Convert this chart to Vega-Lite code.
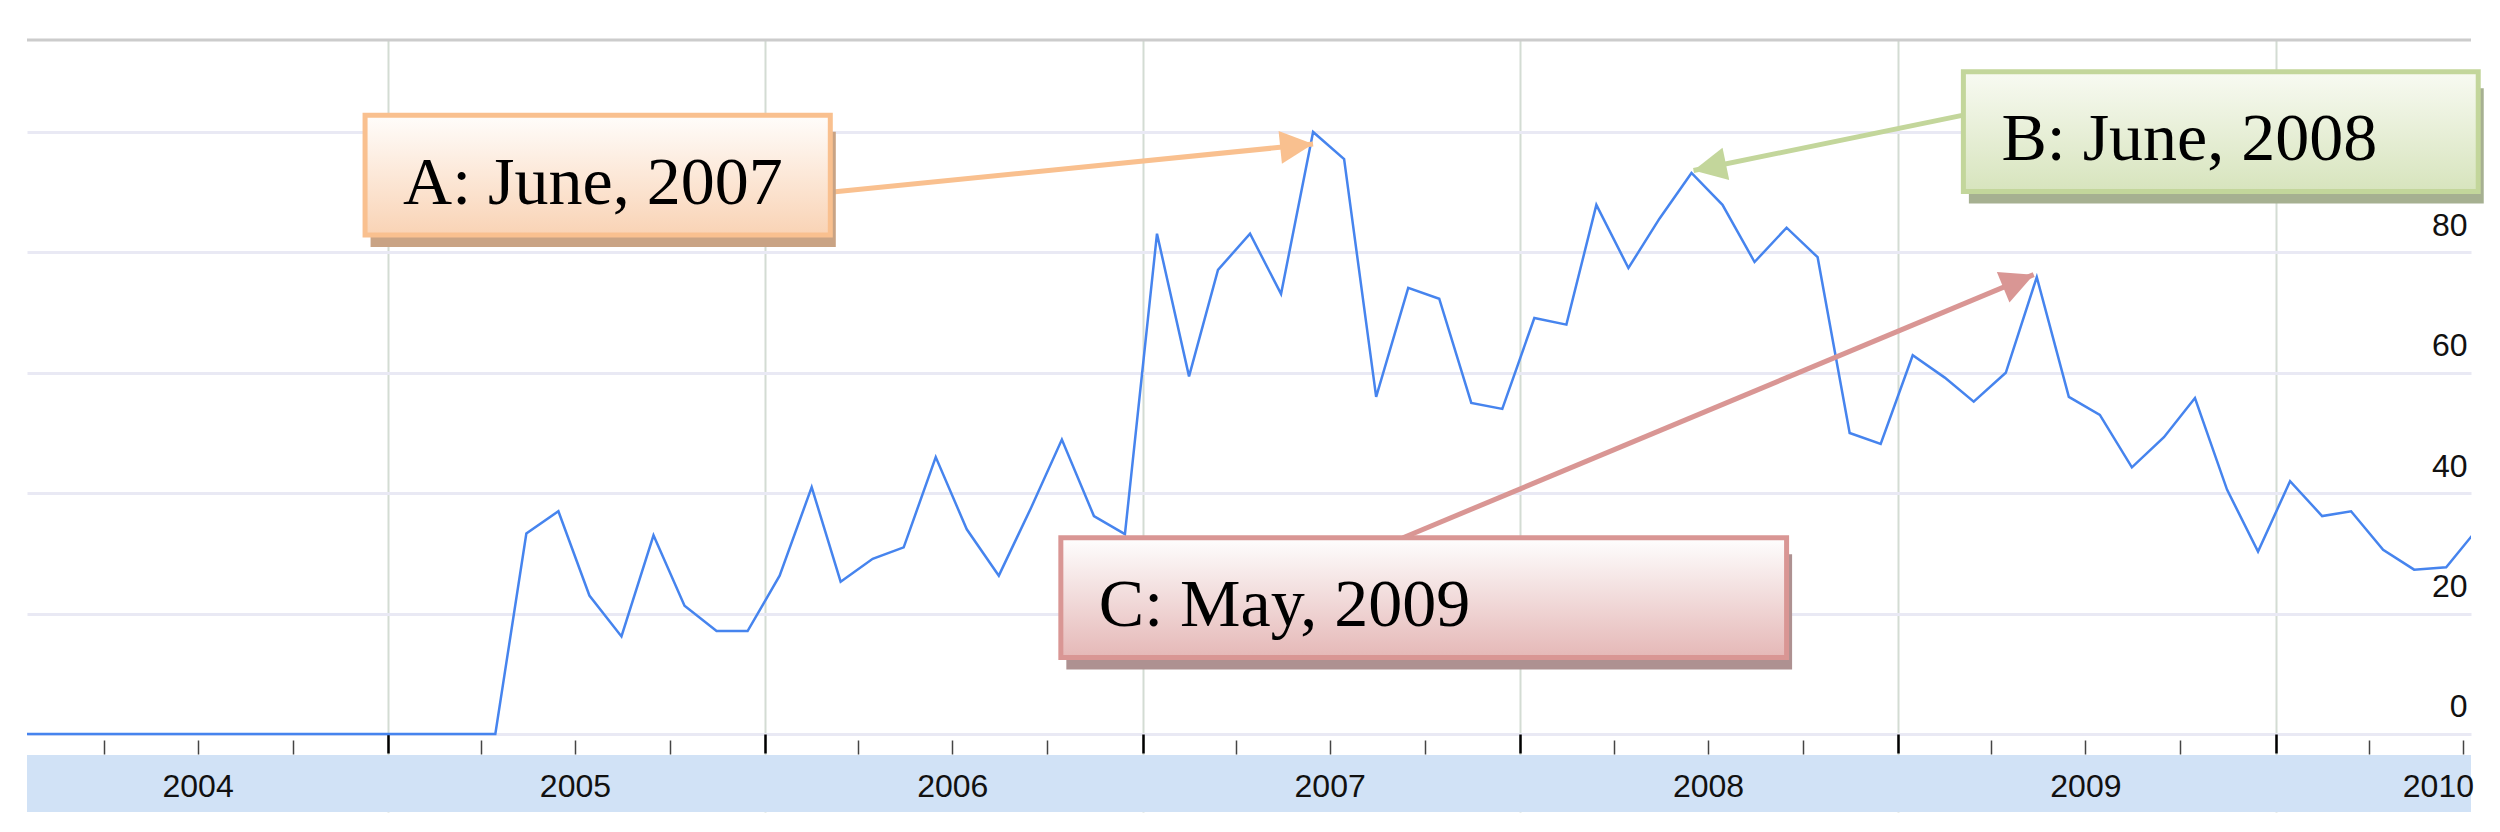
{
  "$schema": "https://vega.github.io/schema/vega-lite/v6.json",
  "autosize": {"type": "none"},
  "padding": {"left": 27, "top": 40, "right": 29, "bottom": 20},
  "width": 2444,
  "height": 772,
  "background": "#ffffff",
  "config": {"view": {"stroke": null}},
  "datasets": {
    "trend": [
      {"date": "2004-01-15", "value": 0}, {"date": "2004-02-15", "value": 0}, {"date": "2004-03-15", "value": 0},
      {"date": "2004-04-15", "value": 0}, {"date": "2004-05-15", "value": 0}, {"date": "2004-06-15", "value": 0},
      {"date": "2004-07-15", "value": 0}, {"date": "2004-08-15", "value": 0}, {"date": "2004-09-15", "value": 0},
      {"date": "2004-10-15", "value": 0}, {"date": "2004-11-15", "value": 0}, {"date": "2004-12-15", "value": 0},
      {"date": "2005-01-15", "value": 0}, {"date": "2005-02-15", "value": 0}, {"date": "2005-03-15", "value": 0},
      {"date": "2005-04-15", "value": 0}, {"date": "2005-05-15", "value": 33.3}, {"date": "2005-06-15", "value": 37},
      {"date": "2005-07-15", "value": 23}, {"date": "2005-08-15", "value": 16.2}, {"date": "2005-09-15", "value": 33},
      {"date": "2005-10-15", "value": 21.3}, {"date": "2005-11-15", "value": 17.1}, {"date": "2005-12-15", "value": 17.1},
      {"date": "2006-01-15", "value": 26.3}, {"date": "2006-02-15", "value": 41}, {"date": "2006-03-15", "value": 25.3},
      {"date": "2006-04-15", "value": 29.1}, {"date": "2006-05-15", "value": 31}, {"date": "2006-06-15", "value": 46},
      {"date": "2006-07-15", "value": 34}, {"date": "2006-08-15", "value": 26.3}, {"date": "2006-09-15", "value": 37.5},
      {"date": "2006-10-15", "value": 48.9}, {"date": "2006-11-15", "value": 36.2}, {"date": "2006-12-15", "value": 33.2},
      {"date": "2007-01-15", "value": 83.1}, {"date": "2007-02-15", "value": 59.4}, {"date": "2007-03-15", "value": 77.1},
      {"date": "2007-04-15", "value": 83.1}, {"date": "2007-05-15", "value": 73.1}, {"date": "2007-06-15", "value": 100},
      {"date": "2007-07-15", "value": 95.5}, {"date": "2007-08-15", "value": 56}, {"date": "2007-09-15", "value": 74.1},
      {"date": "2007-10-15", "value": 72.3}, {"date": "2007-11-15", "value": 55}, {"date": "2007-12-15", "value": 54},
      {"date": "2008-01-15", "value": 69.1}, {"date": "2008-02-15", "value": 68}, {"date": "2008-03-15", "value": 87.9},
      {"date": "2008-04-15", "value": 77.4}, {"date": "2008-05-15", "value": 85.6}, {"date": "2008-06-15", "value": 93.2},
      {"date": "2008-07-15", "value": 87.9}, {"date": "2008-08-15", "value": 78.4}, {"date": "2008-09-15", "value": 84.1},
      {"date": "2008-10-15", "value": 79.2}, {"date": "2008-11-15", "value": 50}, {"date": "2008-12-15", "value": 48.2},
      {"date": "2009-01-15", "value": 62.9}, {"date": "2009-02-15", "value": 59.2}, {"date": "2009-03-15", "value": 55.2},
      {"date": "2009-04-15", "value": 60}, {"date": "2009-05-15", "value": 75.9}, {"date": "2009-06-15", "value": 56},
      {"date": "2009-07-15", "value": 53}, {"date": "2009-08-15", "value": 44.3}, {"date": "2009-09-15", "value": 49.3},
      {"date": "2009-10-15", "value": 55.8}, {"date": "2009-11-15", "value": 40.6}, {"date": "2009-12-15", "value": 30.3},
      {"date": "2010-01-15", "value": 42}, {"date": "2010-02-15", "value": 36.2}, {"date": "2010-03-15", "value": 37},
      {"date": "2010-04-15", "value": 30.6}, {"date": "2010-05-15", "value": 27.3}, {"date": "2010-06-15", "value": 27.7},
      {"date": "2010-07-15", "value": 34}
    ],
    "notes": [
      {"label": "A: June, 2007", "x1": "2004-12-10", "x2": "2006-03-05", "top": 102.8, "bottom": 82.9, "sx": "2006-03-05", "sy": 90.0, "tx": "2007-06-15", "ty": 98.0},
      {"label": "B: June, 2008", "x1": "2009-03-05", "x2": "2010-07-16", "top": 110.0, "bottom": 90.1, "sx": "2009-03-05", "sy": 102.8, "tx": "2008-06-17", "ty": 93.6},
      {"label": "C: May, 2009", "x1": "2006-10-14", "x2": "2008-09-15", "top": 32.6, "bottom": 12.7, "sx": "2007-09-10", "sy": 32.6, "tx": "2009-05-12", "ty": 76.3}
    ]
  },
  "resolve": {"axis": {"x": "independent", "y": "independent"}},
  "layer": [
    {
      "data": {"values": [{}]},
      "mark": {"type": "rule", "color": "#cccccc", "strokeWidth": 3},
      "encoding": {
        "y": {"datum": 115.28, "type": "quantitative", "scale": {"domain": [-12.96, 115.28], "nice": false, "zero": false}, "axis": null}
      }
    },
    {
      "data": {"name": "trend"},
      "mark": {"type": "line", "color": "#4684ee", "strokeWidth": 2.5, "clip": true},
      "encoding": {
        "x": {
          "field": "date", "type": "temporal",
          "scale": {"type": "utc", "domain": [{"year": 2004, "month": 1, "date": 18, "utc": true}, {"year": 2010, "month": 7, "date": 9, "utc": true}]},
          "axis": {
            "orient": "bottom", "offset": -78, "title": null, "labels": false, "domain": false,
            "ticks": true, "tickSize": 19, "tickColor": "#000000", "tickWidth": 2.5,
            "grid": true, "gridColor": "#d3dcd3", "gridWidth": 2, "zindex": 0,
            "values": [
              {"year": 2005, "month": 1, "date": 1, "utc": true}, {"year": 2006, "month": 1, "date": 1, "utc": true},
              {"year": 2007, "month": 1, "date": 1, "utc": true}, {"year": 2008, "month": 1, "date": 1, "utc": true},
              {"year": 2009, "month": 1, "date": 1, "utc": true}, {"year": 2010, "month": 1, "date": 1, "utc": true}
            ]
          }
        },
        "y": {
          "field": "value", "type": "quantitative",
          "scale": {"domain": [-12.96, 115.28], "nice": false, "zero": false},
          "axis": {
            "orient": "right", "title": null, "values": [0, 20, 40, 60, 80, 100],
            "domain": false, "ticks": false, "tickSize": 0,
            "grid": true, "gridColor": "#e9e9f4", "gridWidth": 3,
            "labelAlign": "right", "labelBaseline": "alphabetic", "labelPadding": -4, "labelOffset": -17,
            "labelFont": "Liberation Sans", "labelFontSize": 32, "labelColor": "#111111",
            "zindex": 0
          }
        }
      }
    },
    {
      "data": {"values": [{}]},
      "mark": {"type": "rect", "fill": "#d1e2f6"},
      "encoding": {
        "y": {"datum": -3.49, "type": "quantitative", "scale": {"domain": [-12.96, 115.28], "nice": false, "zero": false}, "axis": null},
        "y2": {"datum": -12.96}
      }
    },
    {
      "data": {"name": "notes"},
      "mark": {"type": "rule", "strokeWidth": 5},
      "encoding": {
        "x": {
          "field": "sx", "type": "temporal",
          "scale": {"type": "utc", "domain": [{"year": 2004, "month": 1, "date": 18, "utc": true}, {"year": 2010, "month": 7, "date": 9, "utc": true}]},
          "axis": {
            "orient": "bottom", "offset": -72, "title": null, "labels": false, "domain": false, "grid": false,
            "ticks": true, "tickSize": 14, "tickColor": "#444444", "tickWidth": 1.5, "zindex": 0,
            "values": [
              {"year": 2004, "month": 4, "date": 1, "utc": true}, {"year": 2004, "month": 7, "date": 1, "utc": true}, {"year": 2004, "month": 10, "date": 1, "utc": true},
              {"year": 2005, "month": 4, "date": 1, "utc": true}, {"year": 2005, "month": 7, "date": 1, "utc": true}, {"year": 2005, "month": 10, "date": 1, "utc": true},
              {"year": 2006, "month": 4, "date": 1, "utc": true}, {"year": 2006, "month": 7, "date": 1, "utc": true}, {"year": 2006, "month": 10, "date": 1, "utc": true},
              {"year": 2007, "month": 4, "date": 1, "utc": true}, {"year": 2007, "month": 7, "date": 1, "utc": true}, {"year": 2007, "month": 10, "date": 1, "utc": true},
              {"year": 2008, "month": 4, "date": 1, "utc": true}, {"year": 2008, "month": 7, "date": 1, "utc": true}, {"year": 2008, "month": 10, "date": 1, "utc": true},
              {"year": 2009, "month": 4, "date": 1, "utc": true}, {"year": 2009, "month": 7, "date": 1, "utc": true}, {"year": 2009, "month": 10, "date": 1, "utc": true},
              {"year": 2010, "month": 4, "date": 1, "utc": true}, {"year": 2010, "month": 7, "date": 1, "utc": true}
            ]
          }
        },
        "x2": {"field": "tx"},
        "y": {"field": "sy", "type": "quantitative", "scale": {"domain": [-12.96, 115.28], "nice": false, "zero": false}, "axis": null},
        "y2": {"field": "ty"},
        "stroke": {
          "field": "label", "type": "nominal", "legend": null,
          "scale": {"domain": ["A: June, 2007", "B: June, 2008", "C: May, 2009"], "range": ["#f9c08f", "#c3d69b", "#d99694"]}
        }
      }
    },
    {
      "data": {"name": "notes"},
      "mark": {"type": "rect", "xOffset": 5.5, "x2Offset": 5.5, "yOffset": 16.5, "y2Offset": 12},
      "encoding": {
        "x": {
          "field": "x1", "type": "temporal",
          "scale": {"type": "utc", "domain": [{"year": 2004, "month": 1, "date": 18, "utc": true}, {"year": 2010, "month": 7, "date": 9, "utc": true}]},
          "axis": {
            "orient": "bottom", "offset": -78, "title": null, "domain": false, "grid": false,
            "ticks": false, "tickSize": 0, "labels": true, "format": "%Y",
            "labelAlign": "center", "labelBaseline": "alphabetic", "labelPadding": 62.5,
            "labelFlush": false, "labelOverlap": false,
            "labelFont": "Liberation Sans", "labelFontSize": 32, "labelColor": "#111111",
            "zindex": 1,
            "values": [
              {"year": 2004, "month": 7, "date": 1, "utc": true}, {"year": 2005, "month": 7, "date": 1, "utc": true},
              {"year": 2006, "month": 7, "date": 1, "utc": true}, {"year": 2007, "month": 7, "date": 1, "utc": true},
              {"year": 2008, "month": 7, "date": 1, "utc": true}, {"year": 2009, "month": 7, "date": 1, "utc": true},
              {"year": 2010, "month": 6, "date": 7, "utc": true}
            ]
          }
        },
        "x2": {"field": "x2"},
        "y": {"field": "top", "type": "quantitative", "scale": {"domain": [-12.96, 115.28], "nice": false, "zero": false}, "axis": null},
        "y2": {"field": "bottom"},
        "fill": {
          "field": "label", "type": "nominal", "legend": null,
          "scale": {"domain": ["A: June, 2007", "B: June, 2008", "C: May, 2009"], "range": ["#c9a384", "#a6b091", "#ae9191"]}
        }
      }
    },
    {
      "data": {"name": "notes"},
      "transform": [{"filter": "datum.label === 'A: June, 2007'"}],
      "mark": {
        "type": "rect", "stroke": "#f9c08f", "strokeWidth": 5,
        "fill": {"gradient": "linear", "x1": 0, "y1": 0, "x2": 0, "y2": 1, "stops": [{"offset": 0, "color": "#fffdfb"}, {"offset": 1, "color": "#f9d3b5"}]}
      },
      "encoding": {
        "x": {"field": "x1", "type": "temporal", "scale": {"type": "utc", "domain": [{"year": 2004, "month": 1, "date": 18, "utc": true}, {"year": 2010, "month": 7, "date": 9, "utc": true}]}, "axis": null},
        "x2": {"field": "x2"},
        "y": {"field": "top", "type": "quantitative", "scale": {"domain": [-12.96, 115.28], "nice": false, "zero": false}, "axis": null},
        "y2": {"field": "bottom"}
      }
    },
    {
      "data": {"name": "notes"},
      "transform": [{"filter": "datum.label === 'B: June, 2008'"}],
      "mark": {
        "type": "rect", "stroke": "#c3d69b", "strokeWidth": 5,
        "fill": {"gradient": "linear", "x1": 0, "y1": 0, "x2": 0, "y2": 1, "stops": [{"offset": 0, "color": "#f8faf2"}, {"offset": 1, "color": "#d7e4bd"}]}
      },
      "encoding": {
        "x": {"field": "x1", "type": "temporal", "scale": {"type": "utc", "domain": [{"year": 2004, "month": 1, "date": 18, "utc": true}, {"year": 2010, "month": 7, "date": 9, "utc": true}]}, "axis": null},
        "x2": {"field": "x2"},
        "y": {"field": "top", "type": "quantitative", "scale": {"domain": [-12.96, 115.28], "nice": false, "zero": false}, "axis": null},
        "y2": {"field": "bottom"}
      }
    },
    {
      "data": {"name": "notes"},
      "transform": [{"filter": "datum.label === 'C: May, 2009'"}],
      "mark": {
        "type": "rect", "stroke": "#d99694", "strokeWidth": 5,
        "fill": {"gradient": "linear", "x1": 0, "y1": 0, "x2": 0, "y2": 1, "stops": [{"offset": 0, "color": "#fefefe"}, {"offset": 1, "color": "#e5b8b7"}]}
      },
      "encoding": {
        "x": {"field": "x1", "type": "temporal", "scale": {"type": "utc", "domain": [{"year": 2004, "month": 1, "date": 18, "utc": true}, {"year": 2010, "month": 7, "date": 9, "utc": true}]}, "axis": null},
        "x2": {"field": "x2"},
        "y": {"field": "top", "type": "quantitative", "scale": {"domain": [-12.96, 115.28], "nice": false, "zero": false}, "axis": null},
        "y2": {"field": "bottom"}
      }
    },
    {
      "data": {"name": "notes"},
      "mark": {"type": "text", "align": "left", "baseline": "alphabetic", "dx": 38, "dy": 88.5, "font": "Liberation Serif", "fontSize": 68, "color": "#000000"},
      "encoding": {
        "x": {"field": "x1", "type": "temporal", "scale": {"type": "utc", "domain": [{"year": 2004, "month": 1, "date": 18, "utc": true}, {"year": 2010, "month": 7, "date": 9, "utc": true}]}, "axis": null},
        "y": {"field": "top", "type": "quantitative", "scale": {"domain": [-12.96, 115.28], "nice": false, "zero": false}, "axis": null},
        "text": {"field": "label"}
      }
    },
    {
      "data": {"name": "notes"},
      "transform": [{"filter": "datum.label === 'A: June, 2007'"}],
      "mark": {"type": "point", "shape": "M0,0 L-2,-1 L-2,1 Z", "size": 1090, "filled": true, "opacity": 1, "strokeWidth": 0, "color": "#f9c08f", "angle": 354.2},
      "encoding": {
        "x": {"field": "tx", "type": "temporal", "scale": {"type": "utc", "domain": [{"year": 2004, "month": 1, "date": 18, "utc": true}, {"year": 2010, "month": 7, "date": 9, "utc": true}]}, "axis": null},
        "y": {"field": "ty", "type": "quantitative", "scale": {"domain": [-12.96, 115.28], "nice": false, "zero": false}, "axis": null}
      }
    },
    {
      "data": {"name": "notes"},
      "transform": [{"filter": "datum.label === 'B: June, 2008'"}],
      "mark": {"type": "point", "shape": "M0,0 L-2,-1 L-2,1 Z", "size": 1090, "filled": true, "opacity": 1, "strokeWidth": 0, "color": "#c3d69b", "angle": 168.3},
      "encoding": {
        "x": {"field": "tx", "type": "temporal", "scale": {"type": "utc", "domain": [{"year": 2004, "month": 1, "date": 18, "utc": true}, {"year": 2010, "month": 7, "date": 9, "utc": true}]}, "axis": null},
        "y": {"field": "ty", "type": "quantitative", "scale": {"domain": [-12.96, 115.28], "nice": false, "zero": false}, "axis": null}
      }
    },
    {
      "data": {"name": "notes"},
      "transform": [{"filter": "datum.label === 'C: May, 2009'"}],
      "mark": {"type": "point", "shape": "M0,0 L-2,-1 L-2,1 Z", "size": 1090, "filled": true, "opacity": 1, "strokeWidth": 0, "color": "#d99694", "angle": 337.6},
      "encoding": {
        "x": {"field": "tx", "type": "temporal", "scale": {"type": "utc", "domain": [{"year": 2004, "month": 1, "date": 18, "utc": true}, {"year": 2010, "month": 7, "date": 9, "utc": true}]}, "axis": null},
        "y": {"field": "ty", "type": "quantitative", "scale": {"domain": [-12.96, 115.28], "nice": false, "zero": false}, "axis": null}
      }
    }
  ]
}
